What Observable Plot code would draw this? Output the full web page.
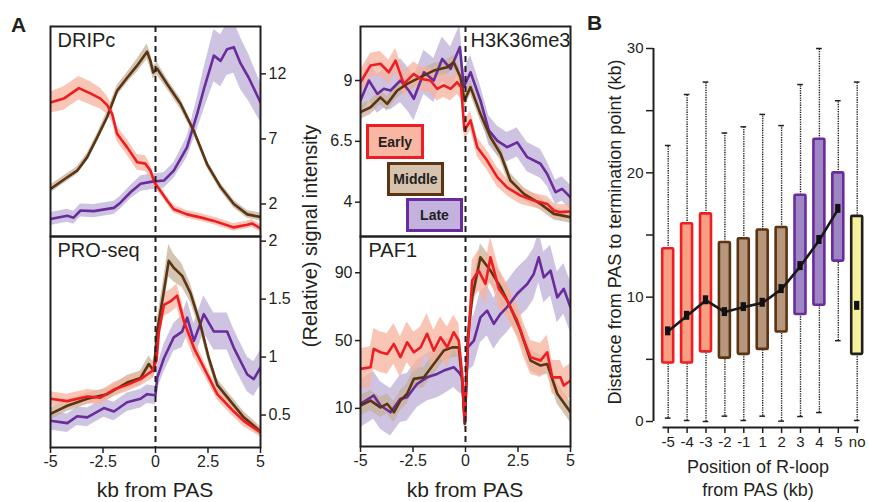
<!DOCTYPE html>
<html>
<head>
<meta charset="utf-8">
<script src="https://cdn.jsdelivr.net/npm/d3@7"></script>
<script src="https://cdn.jsdelivr.net/npm/@observablehq/plot@0.6"></script>
<style>
  body { margin: 0; background: white; }
  #wrap { position: relative; width: 869px; height: 502px; background: white; font-family: "Liberation Sans", Arial, Helvetica, sans-serif; color: #231f20; overflow: hidden; }
  .cell { position: absolute; }
  .txt { position: absolute; white-space: nowrap; color: #231f20; }
  .leg { position: absolute; box-sizing: border-box; border: 3px solid; font-weight: bold; font-size: 14px; display: flex; align-items: center; justify-content: center; }
</style>
</head>
<body>
<div id="wrap"></div>
<script>
// ---------- Panel A data: [kb from PAS, signal, band half-width] ----------
const dripcEarly = [[-5,9.8,0.8],[-4.37,10.1,0.9],[-3.65,10.9,0.9],[-3.1,10.5,0.9],[-2.62,10.1,0.8],[-2.3,9.6,0.7],[-2.06,8.9,0.6],[-1.83,7.4,0.6],[-1.35,6.35,0.6],[-0.87,5.2,0.6],[-0.48,5.1,0.6],[-0.24,4.56,0.5],[-0.05,3.66,0.4],[0.24,3.0,0.3],[0.56,2.25,0.3],[0.87,1.6,0.3],[1.5,1.2,0.3],[2.14,0.97,0.3],[2.78,0.7,0.3],[3.73,0.2,0.3],[4.37,0.4,0.3],[4.6,0.5,0.3],[5,0.12,0.3]];
const dripcMiddle = [[-5,3.15,0.3],[-4.2,4.05,0.3],[-3.73,4.56,0.3],[-3.25,5.6,0.3],[-2.78,7.1,0.3],[-2.3,8.7,0.4],[-1.83,10.7,0.4],[-1.35,11.7,0.4],[-0.87,12.65,0.5],[-0.4,13.7,0.6],[-0.24,13.0,0.6],[-0.11,12.1,0.5],[0.08,12.4,0.5],[0.56,11.2,0.4],[1.19,9.7,0.4],[1.83,7.6,0.3],[2.46,5.05,0.3],[3.1,3.3,0.3],[3.73,2.0,0.3],[4.37,1.2,0.3],[5,1.0,0.3]];
const dripcLate = [[-5,0.85,0.5],[-4.2,1.1,0.5],[-3.9,0.95,0.5],[-3.57,1.5,0.5],[-2.94,1.45,0.5],[-1.98,1.7,0.5],[-1.67,2.1,0.5],[-1.19,2.9,0.5],[-0.71,3.55,0.6],[-0.24,3.7,0.6],[0.4,3.8,0.6],[0.87,4.56,0.6],[1.5,6.35,0.8],[1.98,8.9,1.2],[2.3,10.8,1.6],[2.78,13.4,2],[3.1,13.0,2],[3.41,13.9,2],[3.73,14.05,2],[4.05,12.8,2],[4.44,11.7,1.8],[5,9.8,1.5]];

const proEarly = [[-5,0.64,0.06],[-4.2,0.62,0.06],[-3.25,0.66,0.06],[-2.62,0.65,0.06],[-1.98,0.72,0.06],[-1.35,0.76,0.06],[-0.71,0.81,0.06],[-0.16,0.88,0.07],[0.05,0.97,0.08],[0.16,1.22,0.1],[0.4,1.45,0.1],[0.71,1.48,0.1],[1.03,1.53,0.1],[1.35,1.31,0.1],[1.83,1.08,0.08],[2.3,0.91,0.06],[2.94,0.68,0.05],[3.73,0.53,0.05],[4.2,0.45,0.05],[5,0.35,0.04]];
const proMiddle = [[-5,0.51,0.05],[-4.2,0.58,0.05],[-3.25,0.64,0.05],[-2.3,0.68,0.05],[-1.35,0.78,0.06],[-0.71,0.82,0.06],[-0.32,0.94,0.07],[-0.08,0.88,0.07],[0.08,1.22,0.1],[0.4,1.57,0.12],[0.63,1.83,0.14],[0.87,1.77,0.12],[1.27,1.7,0.1],[1.67,1.55,0.08],[2.14,1.28,0.06],[2.54,0.99,0.05],[2.94,0.76,0.05],[3.57,0.62,0.05],[4.2,0.48,0.05],[5,0.36,0.04]];
const proLate = [[-5,0.45,0.08],[-4.2,0.43,0.08],[-3.73,0.49,0.08],[-3.25,0.48,0.08],[-2.46,0.56,0.08],[-1.98,0.53,0.08],[-1.35,0.61,0.08],[-0.71,0.64,0.08],[-0.4,0.68,0.08],[0,0.67,0.08],[0.08,0.82,0.1],[0.4,0.99,0.12],[0.87,1.17,0.12],[1.27,1.22,0.14],[1.51,1.34,0.15],[1.83,1.14,0.15],[2.3,1.37,0.16],[2.78,1.22,0.16],[3.41,1.22,0.16],[3.73,1.08,0.16],[4.37,0.85,0.15],[4.68,0.81,0.15],[5,0.91,0.15]];

const h3Early = [[-5,8.93,0.5],[-4.52,9.62,0.5],[-4.05,9.69,0.5],[-3.65,9.34,0.5],[-3.33,9.82,0.5],[-2.94,8.86,0.5],[-2.46,9.27,0.5],[-2.14,9.07,0.5],[-1.67,9.0,0.5],[-1.35,8.66,0.5],[-1.03,8.8,0.5],[-0.71,8.66,0.5],[-0.4,8.93,0.5],[-0.21,8.73,0.5],[-0.05,6.95,0.4],[0.24,7.36,0.4],[0.56,6.26,0.4],[1.03,5.71,0.4],[1.51,5.03,0.4],[1.98,4.61,0.35],[2.62,4.27,0.35],[3.25,4.07,0.3],[3.89,3.93,0.3],[4.21,3.66,0.3],[4.52,3.59,0.3],[5,3.62,0.3]];
const h3Middle = [[-5,7.7,0.3],[-4.52,7.9,0.3],[-4.05,8.31,0.3],[-3.73,8.04,0.3],[-3.25,8.59,0.3],[-2.78,8.86,0.3],[-2.14,9.14,0.3],[-1.51,9.41,0.3],[-0.87,9.55,0.3],[-0.56,9.75,0.3],[-0.24,9.14,0.3],[-0.05,8.18,0.3],[0.24,8.73,0.3],[0.71,7.63,0.3],[1.19,6.67,0.3],[1.67,5.99,0.3],[2.14,4.89,0.3],[2.78,4.34,0.25],[3.57,3.93,0.25],[4.21,3.52,0.25],[5,3.38,0.25]];
const h3Late = [[-5,8.18,0.8],[-4.6,9.0,0.8],[-4.2,8.45,0.8],[-3.89,8.66,0.8],[-3.57,8.59,0.8],[-3.1,9.0,0.9],[-2.7,8.59,0.9],[-2.46,8.25,0.9],[-1.98,9.34,0.9],[-1.51,9.0,0.9],[-1.11,9.89,0.9],[-0.71,9.48,0.9],[-0.27,10.37,0.9],[-0.08,8.73,0.7],[0.24,9.34,0.7],[0.71,8.18,0.6],[1.11,6.95,0.6],[1.51,6.53,0.6],[1.98,6.26,0.6],[2.46,6.46,0.6],[2.94,5.85,0.6],[3.57,5.58,0.6],[3.89,5.16,0.5],[4.29,4.41,0.5],[4.6,4.55,0.5],[5,4.2,0.5]];

const pafEarly = [[-5,33.3,12],[-4.52,34.3,12],[-4.37,45.1,12],[-4.05,43.1,12],[-3.73,42.1,12],[-3.41,48.0,12],[-3.1,40.2,12],[-2.78,49.0,12],[-2.46,43.1,12],[-2.14,46.0,12],[-1.83,54.0,12],[-1.51,44.1,12],[-1.19,51.9,12],[-0.87,46.0,12],[-0.56,54.9,10],[-0.32,50,10],[-0.16,30.3,8],[-0.05,2.8,5],[0.08,40.2,10],[0.32,85.4,12],[0.63,91.3,12],[0.95,83.4,12],[1.19,99.1,12],[1.59,80.5,12],[1.98,73.6,10],[2.46,61.8,10],[2.78,50,10],[3.1,40.2,10],[3.57,38.2,10],[3.89,43.1,10],[4.13,28.3,10],[4.52,28.3,10],[4.68,23.5,10],[5,26.4,10]];
const pafMiddle = [[-5,11.7,6],[-4.52,14.6,6],[-4.05,10.6,6],[-3.73,12.7,6],[-3.41,7.7,6],[-3.1,14.6,6],[-2.78,18.6,6],[-2.46,27.4,6],[-1.98,28.3,6],[-1.51,36.2,6],[-1.03,44.1,6],[-0.63,46.0,6],[-0.32,46.0,6],[-0.16,26.4,6],[-0.03,0.9,5],[0.11,51.9,6],[0.32,75.5,8],[0.71,99.1,8],[1.19,91.3,8],[1.67,81.5,8],[2.14,69.7,8],[2.62,55.9,7],[3.1,38.2,6],[3.57,35.3,6],[3.89,36.2,6],[4.37,18.6,6],[5,7.7,6]];
const pafLate = [[-5,12.7,14],[-4.37,17.6,14],[-4.05,11.7,14],[-3.57,7.7,14],[-3.1,15.6,14],[-2.78,16.6,14],[-2.3,24.5,14],[-1.83,28.3,14],[-1.35,30.3,14],[-1.03,32.3,14],[-0.56,34.3,12],[-0.32,31.3,12],[-0.16,28.3,10],[-0.03,0.9,5],[0.11,46.0,14],[0.4,50,15],[0.71,63.7,15],[1.03,67.7,15],[1.35,59.9,15],[1.67,65.8,15],[1.98,69.7,15],[2.46,77.6,15],[2.94,83.4,15],[3.25,89.3,15],[3.49,99.1,15],[3.73,87.3,15],[4.05,91.3,15],[4.37,75.5,15],[4.68,80.5,15],[5,69.7,15]];

const xTicksA = [-5, -2.5, 0, 2.5, 5];
const dripcTicks = [2, 7, 12];
const proTicks = [0.5, 1, 1.5, 2];
const h3Ticks = [4, 6.5, 9];
const pafTicks = [10, 50, 90];
const groupNames = ["Early", "Middle", "Late"];

// ---------- Panel B data ----------
const cats = ["-5","-4","-3","-2","-1","1","2","3","4","5","no"];
const groups = ["Early","Early","Early","Middle","Middle","Middle","Middle","Late","Late","Late","none"];
const q1 = [4.7,4.7,5.6,5.1,5.4,5.8,7.2,8.6,9.35,12.9,5.4];
const q3 = [13.9,15.9,16.7,14.4,14.7,15.4,15.6,18.2,22.7,20.0,16.5];
const med = [7.25,8.5,9.75,8.8,9.2,9.55,10.65,12.5,14.6,17.1,9.3];
const whiskLo = [0.27,0.08,0,0.43,0.08,0.43,0.03,0.4,0.72,6.5,0.08];
const whiskHi = [22.2,26.3,27.3,23.2,23.7,24.7,23.8,27.1,30,25.8,27.3];
const yTicksB = [0, 5, 10, 15, 20, 25, 30];

// ---------- colours ----------
const lineCol = {Early: "#ee1d24", Middle: "#5b3413", Late: "#6a2c9c"};
const bandCol = {Early: "#f7b29c", Middle: "#c6b29a", Late: "#bdb0d8"};
const boxFill = {Early: "#f79f83", Middle: "#b7977b", Late: "#9e86c2", none: "#f6f29c"};
const boxStroke = {Early: "#ee1d24", Middle: "#5b3413", Late: "#6a2c9c", none: "#231f20"};
const legFill = {Early: "#f8b7a2", Middle: "#d6c2ad", Late: "#c3b2dd"};

const FONT = '"Liberation Sans", Arial, Helvetica, sans-serif';
const wrap = document.getElementById("wrap");

function place(node, left, top) {
  const d = document.createElement("div");
  d.className = "cell";
  d.style.left = left + "px";
  d.style.top = top + "px";
  d.appendChild(node);
  wrap.appendChild(d);
}
function text(str, css, cls = "txt") {
  const d = document.createElement("div");
  d.className = cls;
  d.innerHTML = str;
  Object.assign(d.style, css);
  wrap.appendChild(d);
  return d;
}

function panel(o) {
  const series = [["Late", o.late], ["Middle", o.middle], ["Early", o.early]];
  const marks = [];
  for (const [g, data] of series) {
    marks.push(Plot.areaY(data, {x: d => d[0], y1: d => d[1] - d[2], y2: d => d[1] + d[2], fill: bandCol[g], fillOpacity: 0.75, clip: true}));
  }
  for (const [g, data] of series) {
    marks.push(Plot.lineY(data, {x: d => d[0], y: d => d[1], stroke: lineCol[g], strokeWidth: 2.6, clip: true}));
  }
  marks.push(Plot.ruleX([0], {stroke: "#231f20", strokeWidth: 2, strokeDasharray: "6,4"}));
  marks.push(Plot.frame({stroke: "#231f20", strokeWidth: 2}));
  marks.push(Plot.axisY({anchor: o.yAnchor, ticks: o.yTicks, tickFormat: d => String(d), tickSize: 5, tickPadding: 3, strokeWidth: 1.5, label: null}));
  if (o.xAxis) marks.push(Plot.axisX({ticks: xTicksA, tickFormat: d => String(d), tickSize: 6, tickPadding: 2, strokeWidth: 1.5, label: null}));
  marks.push(Plot.text([o.name], {frameAnchor: o.nameAnchor, dx: o.nameDx, dy: 6, lineAnchor: "top", fontSize: 20, fill: "#231f20"}));
  return Plot.plot({
    width: o.width, height: o.height,
    marginLeft: o.ml, marginRight: o.mr, marginTop: o.mt, marginBottom: o.mb,
    x: o.xAxis ? {domain: [-5, 5]} : {domain: [-5, 5], axis: null},
    y: {domain: o.yDomain},
    style: {background: "transparent", overflow: "visible", fontSize: "16px", fontFamily: FONT, color: "#231f20"},
    marks
  });
}

// Left column
place(panel({early: dripcEarly, middle: dripcMiddle, late: dripcLate, yDomain: [-0.5, 15.64], yTicks: dripcTicks, yAnchor: "right",
  name: "DRIPc", nameAnchor: "top-left", nameDx: 7, width: 300, height: 236, ml: 50, mr: 40, mt: 26, mb: 0}), 0, 0);
place(panel({early: proEarly, middle: proMiddle, late: proLate, yDomain: [0.22, 2.04], yTicks: proTicks, yAnchor: "right", xAxis: true,
  name: "PRO-seq", nameAnchor: "top-left", nameDx: 7, width: 300, height: 266, ml: 50, mr: 40, mt: 0, mb: 55}), 0, 236);
// Right column
place(panel({early: h3Early, middle: h3Middle, late: h3Late, yDomain: [2.59, 11.22], yTicks: h3Ticks, yAnchor: "left",
  name: "H3K36me3", nameAnchor: "top-right", nameDx: 0, width: 280, height: 236, ml: 60, mr: 10, mt: 26, mb: 0}), 300, 0);
place(panel({early: pafEarly, middle: pafMiddle, late: pafLate, yDomain: [-12.5, 111.4], yTicks: pafTicks, yAnchor: "left", xAxis: true,
  name: "PAF1", nameAnchor: "top-left", nameDx: 8, width: 280, height: 266, ml: 60, mr: 10, mt: 0, mb: 56}), 300, 236);

// Panel B
const boxData = cats.map((c, i) => ({i, c, g: groups[i], q1: q1[i], q3: q3[i], med: med[i], lo: whiskLo[i], hi: whiskHi[i]}));
const chartB = Plot.plot({
  width: 289, height: 502,
  marginLeft: 83, marginRight: 12, marginTop: 48, marginBottom: 75,
  x: {domain: [0, 10], range: [87.7, 276.7]},
  y: {domain: [0, 30], range: [421, 48]},
  color: {type: "identity"},
  style: {background: "transparent", overflow: "visible", fontSize: "15px", fontFamily: FONT, color: "#231f20"},
  marks: [
    Plot.ruleX(boxData, {x: "i", y1: "lo", y2: "q1", stroke: "#231f20", strokeWidth: 1.4, strokeDasharray: "1.3,1.1"}),
    Plot.ruleX(boxData, {x: "i", y1: "q3", y2: "hi", stroke: "#231f20", strokeWidth: 1.4, strokeDasharray: "1.3,1.1"}),
    Plot.ruleY(boxData, {y: "lo", x1: d => d.i - 0.15, x2: d => d.i + 0.15, stroke: "#231f20", strokeWidth: 1.5}),
    Plot.ruleY(boxData, {y: "hi", x1: d => d.i - 0.15, x2: d => d.i + 0.15, stroke: "#231f20", strokeWidth: 1.5}),
    Plot.rect(boxData, {x1: d => d.i - 0.29, x2: d => d.i + 0.29, y1: "q1", y2: "q3", fill: d => boxFill[d.g], stroke: d => boxStroke[d.g], strokeWidth: 2.6, rx: 1}),
    Plot.line(boxData.filter(d => d.g !== "none"), {x: "i", y: "med", stroke: "#1a1a1a", strokeWidth: 2.6}),
    Plot.rect(boxData, {x1: d => d.i - 0.14, x2: d => d.i + 0.14, y1: d => d.med - 0.36, y2: d => d.med + 0.36, fill: "#111"}),
    Plot.ruleX([0], {y1: 0, y2: 30, dx: -14.7, stroke: "#231f20", strokeWidth: 2}),
    Plot.axisY({anchor: "left", ticks: yTicksB, tickFormat: d => (d % 10 === 0 ? String(d) : ""), tickSize: 7, tickPadding: 3, dx: -10, strokeWidth: 1.5, label: null}),
    Plot.axisX({ticks: cats.map((c, i) => i), tickFormat: i => cats[i], tickSize: 6, tickPadding: 3, strokeWidth: 1.5, label: null}),
    Plot.frame({anchor: "bottom", stroke: "#231f20", strokeWidth: 2})
  ]
});
place(chartB, 580, 0);

// Legend boxes (Early / Middle / Late)
const legPos = {Early: [366, 124, 58, 35], Middle: [387, 162, 57, 34], Late: [406, 198, 57, 34]};
for (const g of groupNames) {
  const [l, t, w, h] = legPos[g];
  text(g, {left: l + "px", top: t + "px", width: w + "px", height: h + "px", borderColor: lineCol[g], background: legFill[g], color: "#231f20"}, "leg");
}

// Texts
text("A", {left: "11px", top: "13px", fontSize: "21px", fontWeight: "bold"});
text("B", {left: "587px", top: "11px", fontSize: "21px", fontWeight: "bold"});
text("kb from PAS", {left: "155px", top: "490px", fontSize: "21px", transform: "translate(-50%,-50%)"});
text("kb from PAS", {left: "465px", top: "490px", fontSize: "21px", transform: "translate(-50%,-50%)"});
text("(Relative) signal intensity", {left: "310px", top: "236px", fontSize: "20px", transform: "translate(-50%,-50%) rotate(-90deg)"});
text("Distance from PAS to termination point (kb)", {left: "615px", top: "232px", fontSize: "18px", transform: "translate(-50%,-50%) rotate(-90deg)"});
text("Position of R-loop<br>from PAS (kb)", {left: "758px", top: "479px", fontSize: "18px", lineHeight: "23px", textAlign: "center", transform: "translate(-50%,-50%)"});
</script>
</body>
</html>
